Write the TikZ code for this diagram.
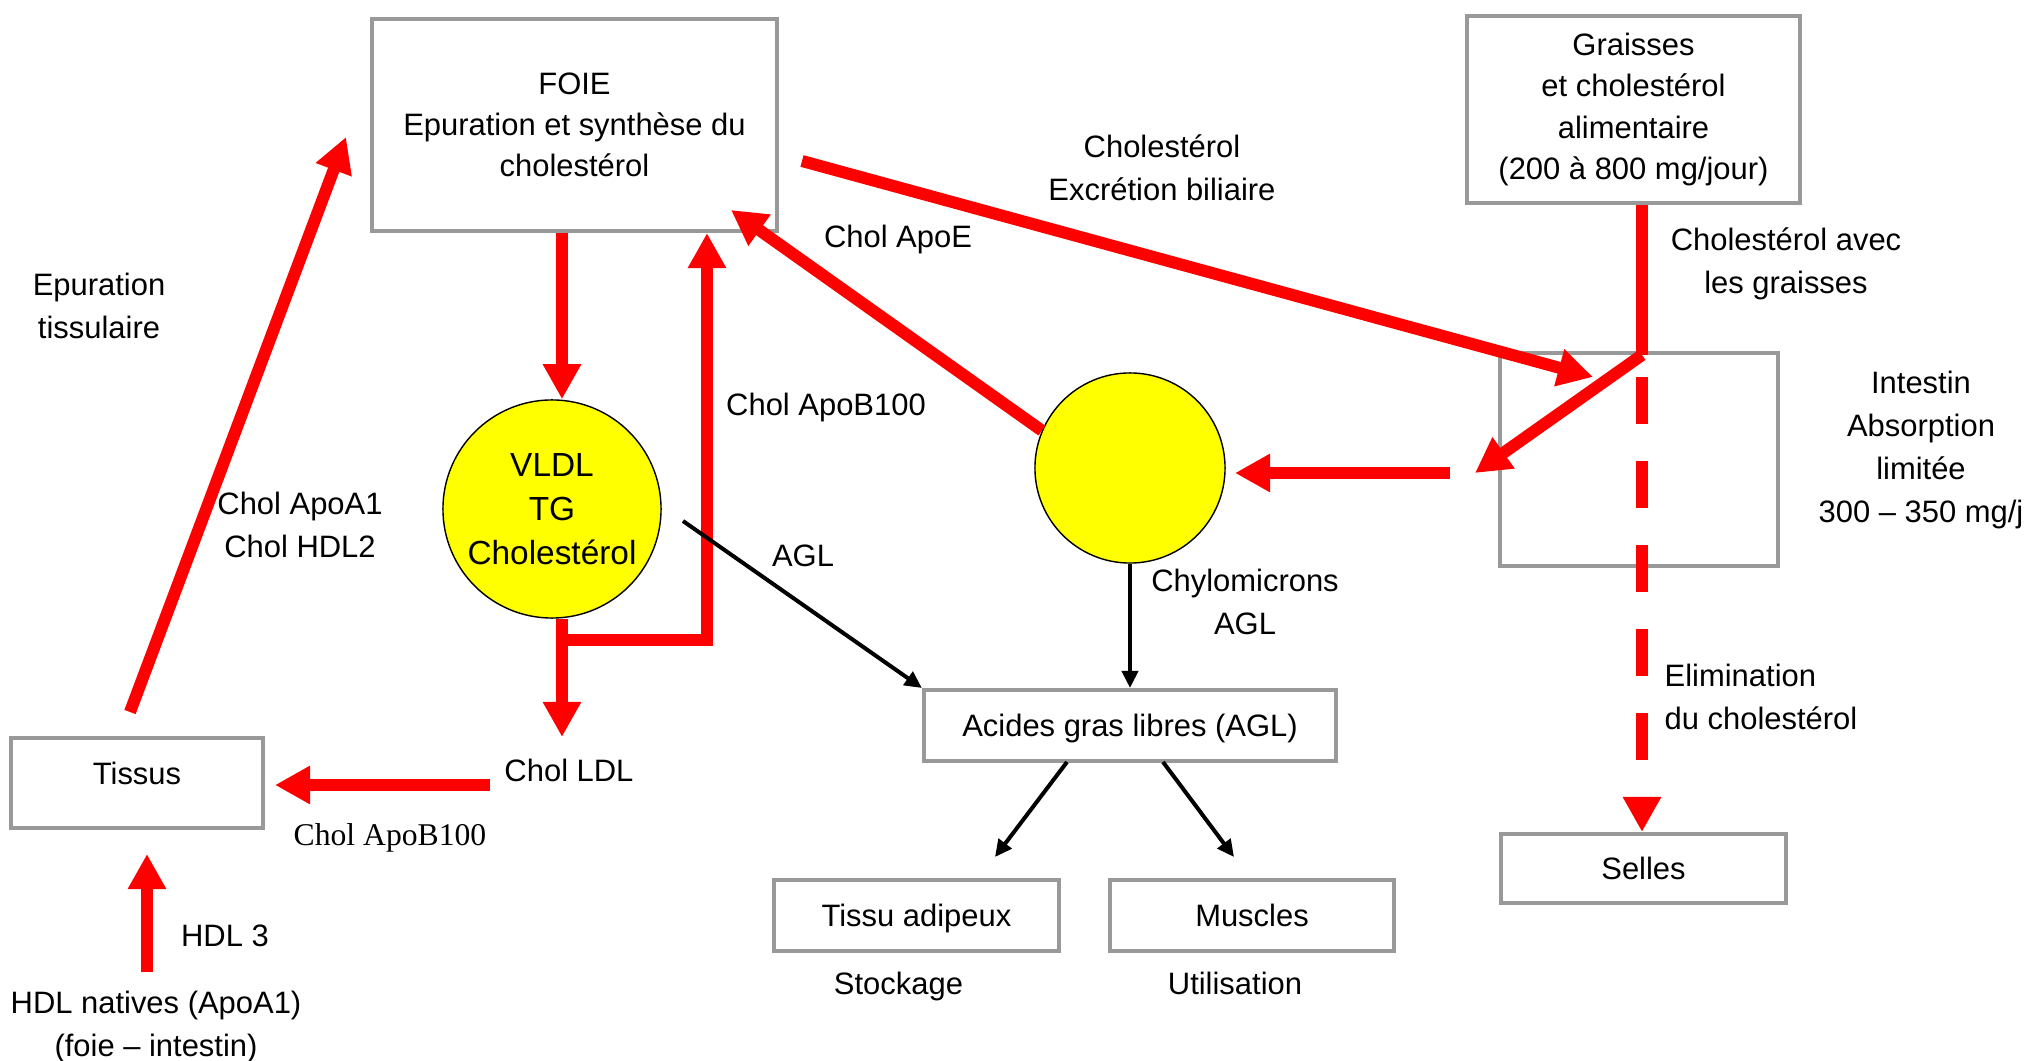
\documentclass[tikz,border=0pt]{standalone}
\usepackage{fontspec}
\setmainfont{Liberation Sans}
\newfontfamily\serifnote{Liberation Serif}
\usetikzlibrary{arrows.meta,positioning,calc,shapes.geometric}
\definecolor{boxgray}{HTML}{999999}
\definecolor{flux}{HTML}{FF0000}
\definecolor{lipoyel}{HTML}{FFFF00}
\tikzset{
  box/.style  ={rectangle, draw=boxgray, line width=0.04cm, fill=white, align=center,
                inner sep=0pt, font=\fontsize{8.8}{11.7}\selectfont},
  oneline/.style={text height=0.26cm, text depth=0.04cm},
  part/.style ={circle, draw=black, line width=0.4pt, fill=lipoyel, align=center,
                inner sep=0pt, font=\fontsize{9.5}{12.5}\selectfont},
  lbl/.style  ={align=center, inner sep=0pt, font=\fontsize{8.8}{12.3}\selectfont},
  rline/.style={line width=0.12cm, draw=flux},
  rar/.style  ={-{Triangle[length=0.35cm,width=0.36cm]}, rline},
  bar/.style  ={-{Triangle[length=0.17cm,width=0.16cm]}, line width=0.04cm, draw=black},
}

\begin{document}
\begin{tikzpicture}[x=0.01cm, y=-0.01cm]
\useasboundingbox (0,0) rectangle (2038,1061);

\node[box, minimum width=4.05cm, minimum height=2.12cm] (foie) at (574.5,125) {FOIE\\Epuration et synthèse du\\cholestérol};
\node[box, minimum width=3.33cm, minimum height=1.87cm] (graisses) at (1633.5,109.5) {Graisses\\et cholestérol\\alimentaire\\(200 à 800 mg/jour)};
\node[box, minimum width=2.78cm, minimum height=2.13cm] (intestin) at (1639,459.5) {};
\node[box, oneline, minimum width=2.85cm, minimum height=0.69cm] (selles) at (1643.5,868.5) {Selles};
\node[box, minimum width=2.52cm, minimum height=0.90cm, text depth=0.2cm] (tissus) at (137,783) {Tissus};
\node[box, oneline, minimum width=4.12cm, minimum height=0.71cm] (acides) at (1130,725.5) {Acides gras libres (AGL)};
\node[box, oneline, minimum width=2.85cm, minimum height=0.71cm] (adipeux) at (916.5,915.5) {Tissu adipeux};
\node[box, oneline, minimum width=2.84cm, minimum height=0.71cm] (muscles) at (1252,915.5) {Muscles};
\node[part, minimum size=2.18cm] (vldl) at (552,509) {VLDL\\TG\\Cholestérol};
\node[part, minimum size=1.90cm] (chylo) at (1130,468) {};

\node[lbl] (ept) at (99,306) {Epuration\\tissulaire};
\node[lbl] (apoat) at (300,525) {Chol ApoA1\\Chol HDL2};
\node[lbl] (apobt) at (826,408) {Chol ApoB100};
\node[lbl] (apoet) at (898,240) {Chol ApoE};
\node[lbl] (bilt) at (1162,168) {Cholestérol\\Excrétion biliaire};
\node[lbl] (avect) at (1786,264) {Cholestérol avec\\les graisses};
\node[lbl] (intt) at (1921,450) {Intestin\\Absorption\\limitée\\300 -- 350 mg/j};
\node[lbl] (aglt) at (803,556) {AGL};
\node[lbl] (chylt) at (1245,602) {Chylomicrons\\AGL};
\node[lbl, anchor=west, align=left] (elimt) at (1664,697) {Elimination\\du cholestérol};
\node[lbl] (ldl) at (569,770) {Chol LDL};
\node[lbl, font=\serifnote\fontsize{9}{11}\selectfont] (apobs) at (390,838) {Chol ApoB100};
\node[lbl] (hdl3) at (225,936) {HDL 3};
\node[lbl] (hdln) at (156,1027) {HDL natives (ApoA1)\\(foie -- intestin)};
\node[lbl, below=0.18cm of adipeux, xshift=-0.18cm] (stock) {Stockage};
\node[lbl, below=0.18cm of muscles, xshift=-0.17cm] (util) {Utilisation};

\coordinate (epA) at (130,712);
\coordinate (epB) at (346,137);
\coordinate (vj) at (562,640);
\coordinate (bj) at (707,640);
\coordinate (ldlB) at (562,737);
\coordinate (ldlA) at (490,785);
\coordinate (tisB) at (275,785);
\coordinate (hdlA) at (147,972);
\coordinate (hdlB) at (147,854);
\coordinate (apoeB) at (731,210);
\coordinate (bilA) at (802,161);
\coordinate (bilB) at (1593,377);
\coordinate (gj) at (1642,355);
\coordinate (gB) at (1475,473);
\coordinate (chA) at (1450,473);
\coordinate (chB) at (1235,473);
\coordinate (elA) at (1642,377);
\coordinate (aglA) at (683,521);
\coordinate (adA) at (1067,762);
\coordinate (adB) at (995,857);
\coordinate (muA) at (1163,762);
\coordinate (muB) at (1234,857);

\draw[rar] (epA) -- (epB);
\draw[rar] (foie.south -| vj) -- (vldl.north -| vj);
\draw[rar] (vldl.south -| vj) -- (ldlB);
\draw[rar, line join=miter] (vj) -- (bj) -- (foie.south -| bj);
\draw[rar] (ldlA) -- (tisB);
\draw[rar] (hdlA) -- (hdlB);
\draw[rar] (chylo.157) -- (apoeB);
\draw[rar] (bilA) -- (bilB);
\draw[rline] (graisses.south -| gj) -- (gj);
\draw[rar] (gj) -- (gB);
\draw[rar] (chA) -- (chB);
\draw[rar, dash pattern=on 0.47cm off 0.37cm] (elA) -- (selles.north -| elA);
\draw[bar] (aglA) -- (acides.north west);
\draw[bar] (chylo.south) -- (chylo.south |- acides.north);
\draw[bar] (adA) -- (adB);
\draw[bar] (muA) -- (muB);
\end{tikzpicture}
\end{document}
